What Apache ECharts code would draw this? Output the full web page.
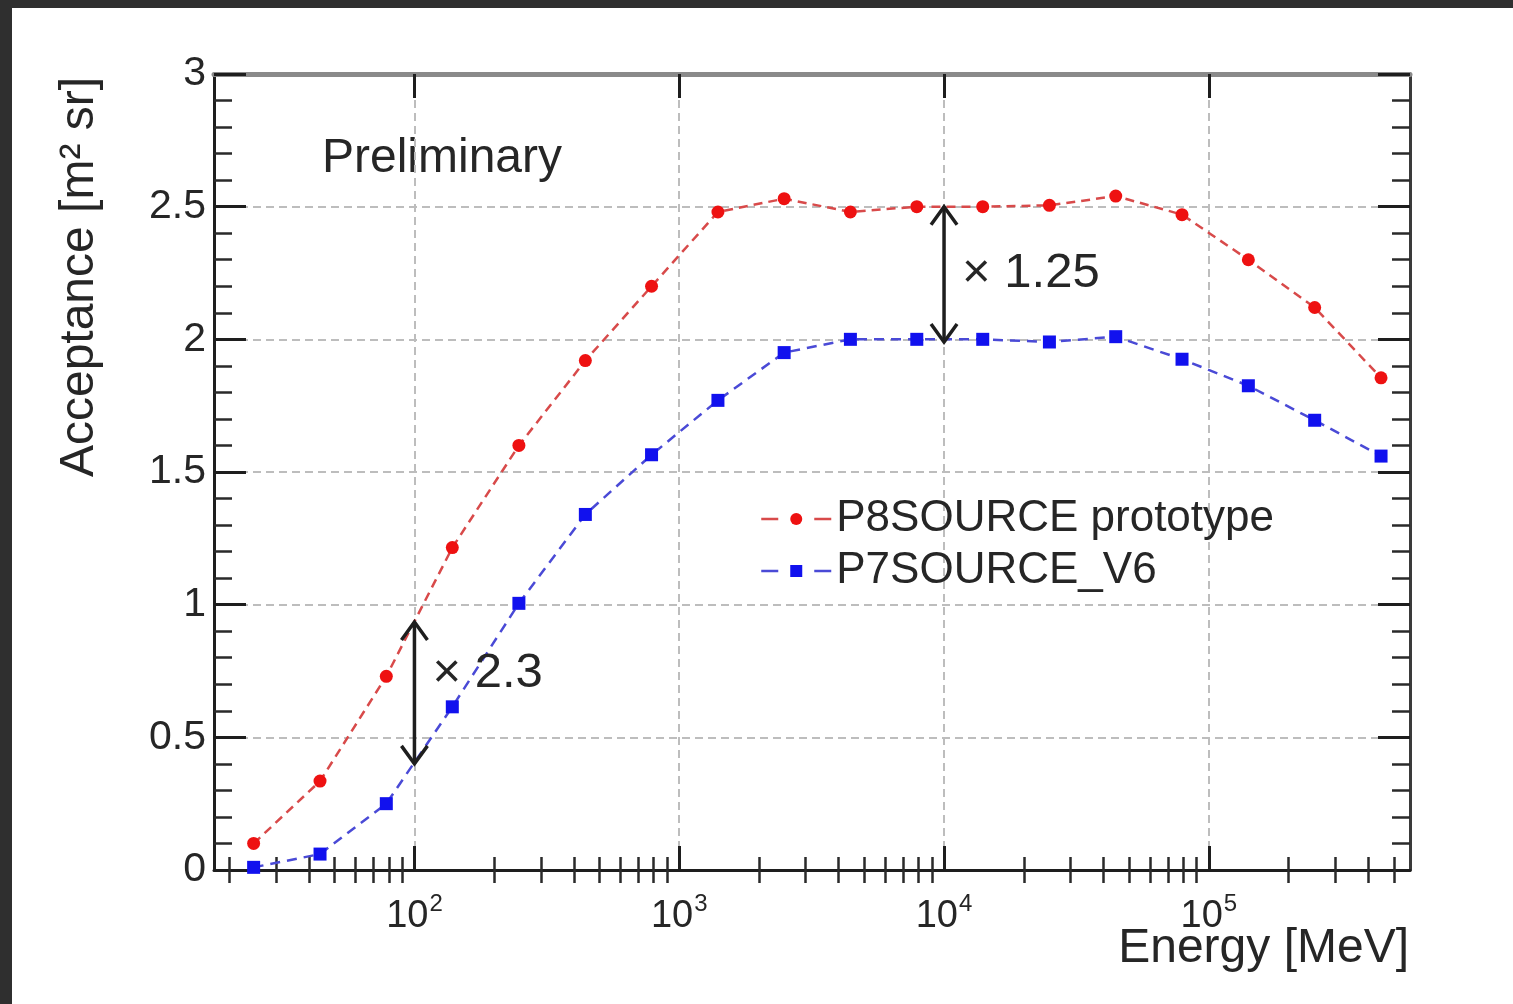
<!DOCTYPE html>
<html>
<head>
<meta charset="utf-8">
<script src="https://cdn.jsdelivr.net/npm/echarts@6/dist/echarts.min.js"></script>
<style>
  html, body { margin: 0; padding: 0; width: 1513px; height: 1004px; background: #2f2f2f; overflow: hidden; }
  #chart { position: absolute; left: 12px; top: 8px; width: 1501px; height: 996px; background: #ffffff; }
</style>
</head>
<body>
<div id="chart"></div>
<script>
// ---- data ----
const energyMeV = [24.7, 44.0, 78.3, 139, 248, 442, 786, 1400, 2490, 4430, 7890, 14000, 25000, 44500, 79200, 141000, 251000, 447000];
const p8Acceptance = [0.10, 0.335, 0.73, 1.215, 1.60, 1.92, 2.20, 2.48, 2.53, 2.48, 2.50, 2.50, 2.505, 2.54, 2.47, 2.30, 2.12, 1.855];
const p7Acceptance = [0.01, 0.06, 0.25, 0.615, 1.005, 1.34, 1.565, 1.77, 1.95, 2.00, 2.00, 2.00, 1.99, 2.01, 1.925, 1.825, 1.695, 1.56];
const seriesNames = ['P8SOURCE prototype', 'P7SOURCE_V6'];

const xMin = 17.5, xMax = 575000;
const xMajorTicks = [100, 1000, 10000, 100000];
const xTickExponents = ['2', '3', '4', '5'];
const xMinorTicks = [20, 30, 40, 50, 60, 70, 80, 90,
  200, 300, 400, 500, 600, 700, 800, 900,
  2000, 3000, 4000, 5000, 6000, 7000, 8000, 9000,
  20000, 30000, 40000, 50000, 60000, 70000, 80000, 90000,
  200000, 300000, 400000, 500000];

// ratio arrows
const arrowX = [100, 10000];
const arrowLow = [0.40, 1.99];
const arrowHigh = [0.935, 2.50];
const factorLabels = ['\u00d7 2.3', '\u00d7 1.25'];
const factorLabelY = [0.74, 2.25];

const FONT = '"Liberation Sans", Arial, Helvetica, sans-serif';
const TXT = '#262626';

const chart = echarts.init(document.getElementById('chart'), null, { renderer: 'canvas' });

const gridDash = { color: '#bdbdbd', width: 2, type: [8, 5] };

function logAxis(extra) {
  return Object.assign({
    type: 'log', logBase: 10, min: xMin, max: xMax, gridIndex: 0,
    axisLine: { show: false },
    axisTick: { show: false },
    axisLabel: { show: false },
    splitLine: { show: false },
    minorTick: { show: false },
    minorSplitLine: { show: false }
  }, extra);
}

const option = {
  animation: false,
  backgroundColor: '#ffffff',
  grid: { left: 202, top: 66, right: 103, bottom: 134, containLabel: false, outerBoundsMode: 'none' },
  xAxis: [
    logAxis({
      position: 'bottom',
      axisLine: { show: true, onZero: false, lineStyle: { color: '#1e1e1e', width: 3 } },
      axisTick: { show: true, inside: true, length: 24, customValues: xMajorTicks, lineStyle: { color: '#1e1e1e', width: 3 } },
      axisLabel: {
        show: true, customValues: xMajorTicks, margin: 22,
        formatter: function (v) {
          const i = xMajorTicks.indexOf(v);
          const e = i >= 0 ? xTickExponents[i] : String(Math.round(Math.log10(v)));
          return '{b|10}{s|' + e + '}';
        },
        rich: {
          b: { fontSize: 38, fontFamily: FONT, color: TXT, lineHeight: 44, verticalAlign: 'bottom' },
          s: { fontSize: 24, fontFamily: FONT, color: TXT, verticalAlign: 'top', lineHeight: 16, padding: [0, 0, 0, 1] }
        }
      },
      splitLine: { show: true, lineStyle: gridDash }
    }),
    logAxis({
      position: 'bottom',
      axisTick: { show: true, inside: true, length: 13, customValues: xMinorTicks, lineStyle: { color: '#2a2a2a', width: 2.5 } }
    }),
    logAxis({
      position: 'top',
      axisLine: { show: true, onZero: false, lineStyle: { color: '#8a8a8a', width: 5 } },
      axisTick: { show: true, inside: true, length: 24, customValues: xMajorTicks, lineStyle: { color: '#1e1e1e', width: 3 } }
    }),
    logAxis({
      position: 'top',
      axisTick: { show: true, inside: true, length: 13, customValues: xMinorTicks, lineStyle: { color: '#2a2a2a', width: 2.5 } }
    })
  ],
  yAxis: [
    {
      type: 'value', min: 0, max: 3, interval: 0.5, position: 'left',
      axisLine: { show: true, onZero: false, lineStyle: { color: '#1e1e1e', width: 3 } },
      axisTick: { show: true, inside: true, length: 32, lineStyle: { color: '#1e1e1e', width: 3 } },
      minorTick: { show: true, splitNumber: 5, length: 18, lineStyle: { color: '#2a2a2a', width: 2.5 } },
      axisLabel: { show: true, margin: 8, fontSize: 41, fontFamily: FONT, color: TXT },
      splitLine: { show: true, showMinLine: false, showMaxLine: false, lineStyle: gridDash }
    },
    {
      type: 'value', min: 0, max: 3, interval: 0.5, position: 'right',
      axisLine: { show: true, onZero: false, lineStyle: { color: '#3a3a3a', width: 3 } },
      axisTick: { show: true, inside: true, length: 32, lineStyle: { color: '#1e1e1e', width: 3 } },
      minorTick: { show: true, splitNumber: 5, length: 18, lineStyle: { color: '#2a2a2a', width: 2.5 } },
      axisLabel: { show: false },
      splitLine: { show: false }
    }
  ],
  legend: {
    data: seriesNames,
    orient: 'vertical',
    left: 743, top: 484,
    itemWidth: 70, itemHeight: 15, itemGap: 8,
    lineStyle: { type: [17, 36], width: 2.5 },
    textStyle: { fontSize: 44, fontFamily: FONT, color: TXT, lineHeight: 44 },
    selectedMode: false
  },
  graphic: [
    { type: 'text', left: 310, top: 127, silent: true,
      style: { text: 'Preliminary', font: '48px ' + FONT, fill: TXT } },
    { type: 'text', x: 68, y: 269, rotation: Math.PI / 2, silent: true,
      style: { text: 'Acceptance [m\u00b2 sr]', font: '48px ' + FONT, fill: TXT, align: 'center', verticalAlign: 'middle' } },
    { type: 'text', right: 104, top: 917, silent: true,
      style: { text: 'Energy [MeV]', font: '48px ' + FONT, fill: TXT } }
  ],
  series: [
    {
      name: seriesNames[0], type: 'line', xAxisIndex: 0, yAxisIndex: 0,
      data: energyMeV.map((e, i) => [e, p8Acceptance[i]]),
      symbol: 'circle', symbolSize: 13, showAllSymbol: true,
      itemStyle: { color: '#ee1111' },
      lineStyle: { color: '#d84a4a', width: 2.5, type: [9, 6] },
      z: 4
    },
    {
      name: seriesNames[1], type: 'line', xAxisIndex: 0, yAxisIndex: 0,
      data: energyMeV.map((e, i) => [e, p7Acceptance[i]]),
      symbol: 'rect', symbolSize: 13, showAllSymbol: true,
      itemStyle: { color: '#1111ee' },
      lineStyle: { color: '#4a4ad6', width: 2.5, type: [10, 7] },
      z: 4
    },
    {
      type: 'custom', xAxisIndex: 0, yAxisIndex: 0, silent: true, z: 6,
      data: arrowX.map((x, i) => [x, arrowLow[i], arrowHigh[i], factorLabelY[i]]),
      encode: { x: 0, y: [1, 2] },
      renderItem: function (params, api) {
        const i = params.dataIndex;
        const x = api.value(0);
        const pLow = api.coord([x, api.value(1)]);
        const pHigh = api.coord([x, api.value(2)]);
        const pLab = api.coord([x, api.value(3)]);
        const hl = 18, hw = 13;
        const st = { stroke: '#1e1e1e', lineWidth: 3.5, fill: null };
        return {
          type: 'group',
          children: [
            { type: 'line', shape: { x1: pLow[0], y1: pLow[1], x2: pHigh[0], y2: pHigh[1] }, style: st },
            { type: 'polyline', shape: { points: [[pHigh[0] - hw, pHigh[1] + hl], [pHigh[0], pHigh[1]], [pHigh[0] + hw, pHigh[1] + hl]] }, style: st },
            { type: 'polyline', shape: { points: [[pLow[0] - hw, pLow[1] - hl], [pLow[0], pLow[1]], [pLow[0] + hw, pLow[1] - hl]] }, style: st },
            { type: 'text', x: pLab[0] + 18, y: pLab[1],
              style: { text: factorLabels[i], font: '49px ' + FONT, fill: TXT, align: 'left', verticalAlign: 'middle' } }
          ]
        };
      }
    }
  ]
};

chart.setOption(option);
</script>
</body>
</html>
